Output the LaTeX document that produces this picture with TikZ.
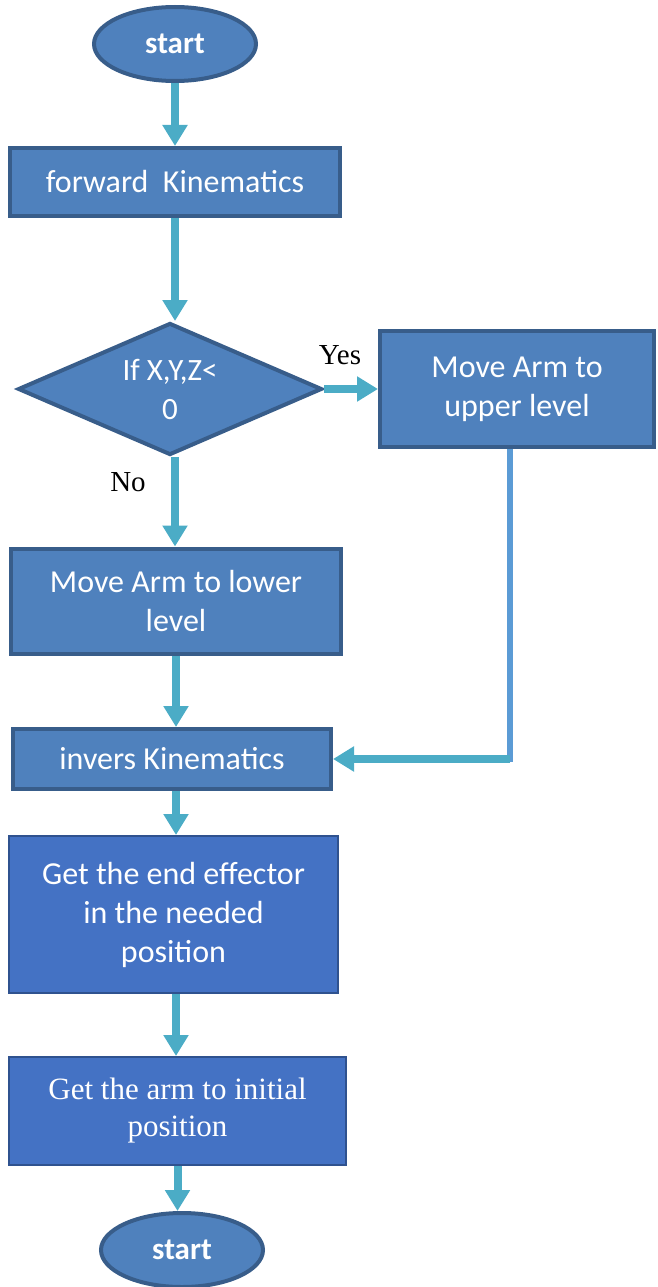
\documentclass[tikz,border=0pt]{standalone}
\usepackage{fontspec}
\setmainfont{Carlito}
\newfontfamily\timesf{Liberation Serif}
\usetikzlibrary{shapes.geometric,arrows.meta}
\definecolor{fillA}{HTML}{4F81BD}
\definecolor{drawA}{HTML}{385D8A}
\definecolor{fillB}{HTML}{4472C4}
\definecolor{drawB}{HTML}{2F528F}
\definecolor{arr}{HTML}{4BACC6}
\definecolor{lineB}{HTML}{5B9BD5}
\begin{document}
\begin{tikzpicture}[x=1pt,y=-1pt,
 term/.style={ellipse,fill=fillA,draw=drawA,line width=4pt,inner sep=0pt,text=white,
   minimum width=162pt,minimum height=74pt,font=\fontsize{31}{34}\selectfont\bfseries},
 boxA/.style={rectangle,fill=fillA,draw=drawA,line width=4pt,inner sep=0pt,text=white,
   align=center,font=\fontsize{32}{39}\selectfont},
 boxB/.style={rectangle,fill=fillB,draw=drawB,line width=2pt,inner sep=0pt,text=white,
   align=center,font=\fontsize{32}{39}\selectfont},
 decide/.style={diamond,aspect=2.3,fill=fillA,draw=drawA,line width=4pt,inner sep=0pt,text=white,
   align=center,font=\fontsize{31}{39}\selectfont},
 flow/.style={draw=arr,line width=8pt,-{Triangle[width=24pt,length=21pt]}},
 plain/.style={draw=lineB,line width=6pt},
 lbl/.style={font=\timesf\fontsize{29}{34}\selectfont,inner sep=0pt}]
\useasboundingbox (0,0) rectangle (657,1287);

\node[term] (s) at (175,44) {start};
\node[boxA,minimum width=330pt,minimum height=68pt] (fk) at (175,182) {forward\ \ Kinematics};
\node[decide,minimum width=304pt,minimum height=132pt] (d) at (170,389) {If X,Y,Z<\\0};
\node[boxA,minimum width=274pt,minimum height=116pt] (up) at (517,389) {Move Arm to\\upper level};
\node[boxA,minimum width=330pt,minimum height=105pt] (low) at (176,601) {Move Arm to lower\\level};
\node[boxA,minimum width=318pt,minimum height=60pt] (inv) at (172,759) {invers Kinematics};
\node[boxB,minimum width=329pt,minimum height=157pt] (eff) at (173.5,914.5) {Get the end effector\\in the needed\\position};
\node[boxB,minimum width=337pt,minimum height=108pt,font=\timesf\fontsize{31}{37}\selectfont] (ini) at (177.5,1111) {Get the arm to initial\\position};
\node[term] (e) at (182,1250) {start};

\node[lbl] (yes) at (340,355) {Yes};
\node[lbl] (no) at (128,482) {No};

\draw[flow] (s.south) -- (s.south |- fk.north);
\draw[flow] (fk.south) -- (fk.south |- d.north);
\draw[flow] (d.east) -- (up.west);
\draw[flow] (d.south -| fk.south) -- (fk.south |- low.north);
\draw[flow] (low.south) -- (low.south |- inv.north);
\draw[flow] (inv.south -| low.south) -- (low.south |- eff.north);
\draw[flow] (eff.south -| low.south) -- (low.south |- ini.north);
\draw[flow] (ini.south) -- (ini.south |- e.north);

\coordinate (k) at (510,762);
\draw[plain] ([xshift=-7pt]up.south) -- (k);
\draw[flow] (k |- inv.east) -- (inv.east);
\end{tikzpicture}
\end{document}
